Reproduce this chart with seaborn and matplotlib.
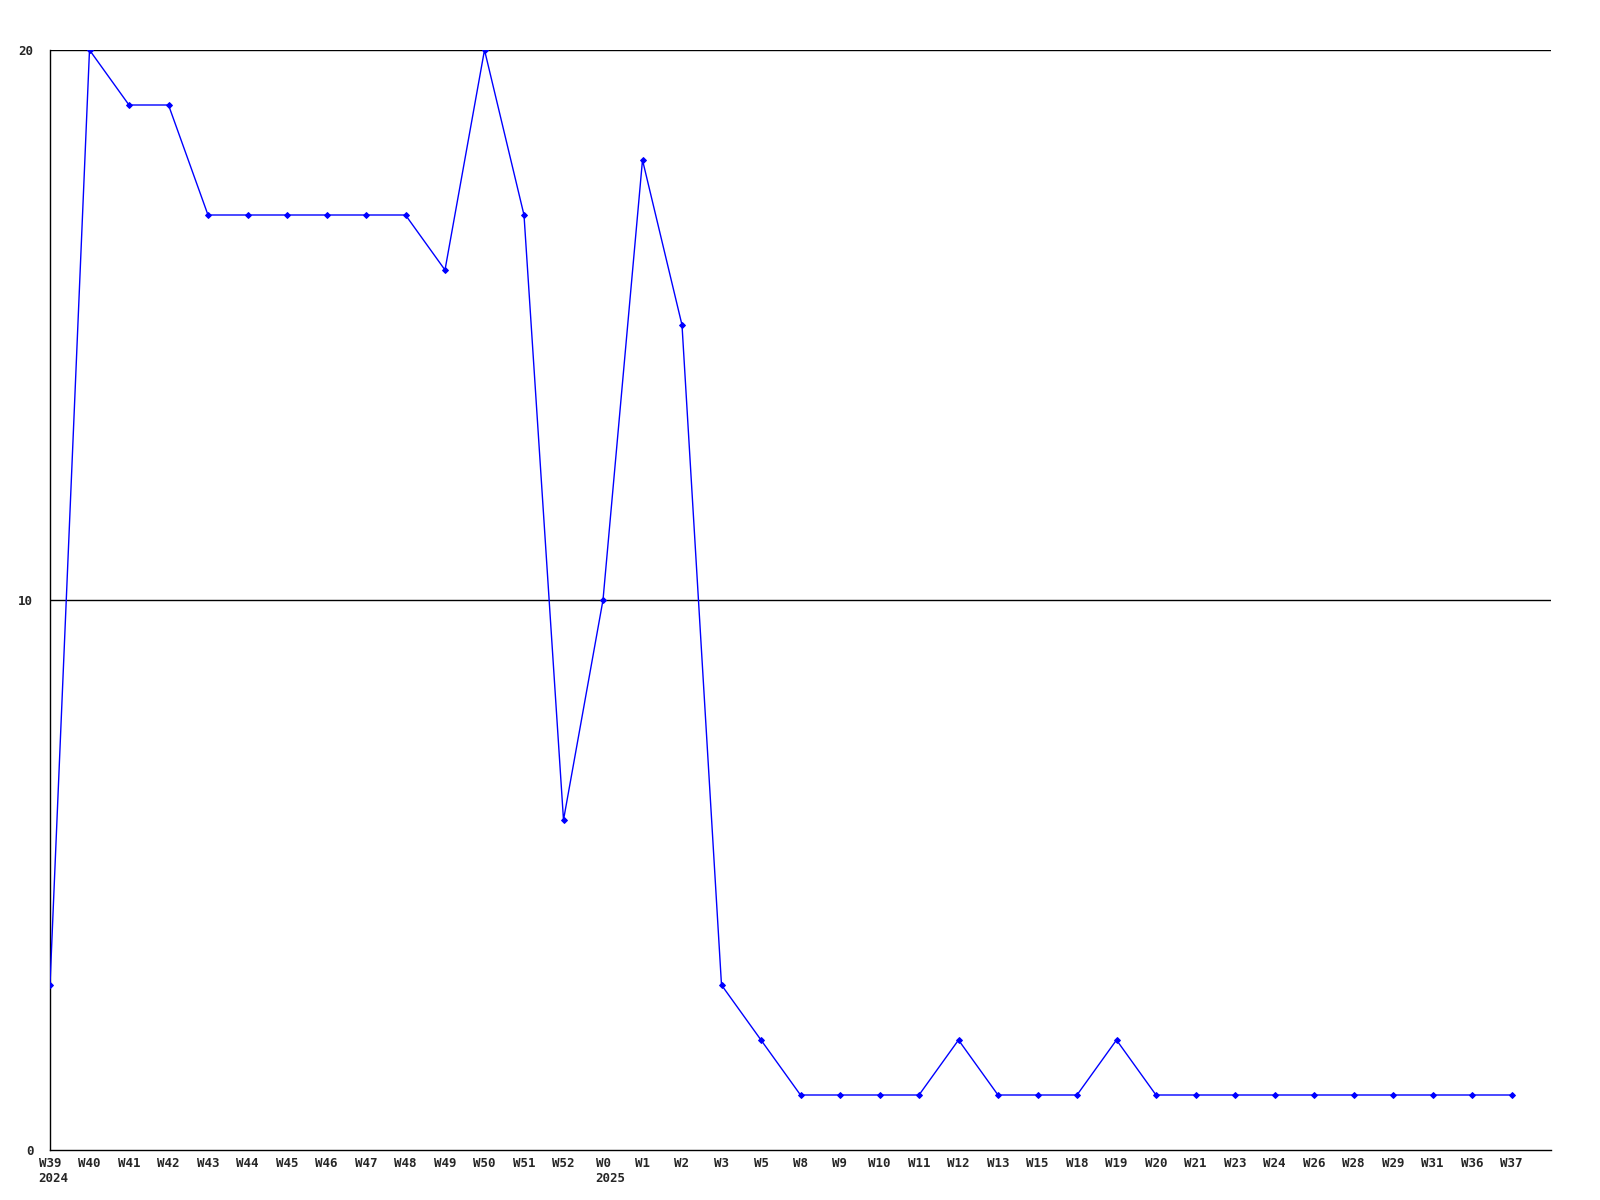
import matplotlib
matplotlib.use("Agg")
import matplotlib.pyplot as plt
import seaborn as sns
import pandas as pd

weeks = ["W39", "W40", "W41", "W42", "W43", "W44", "W45", "W46", "W47", "W48",
         "W49", "W50", "W51", "W52", "W0", "W1", "W2", "W3", "W5", "W8",
         "W9", "W10", "W11", "W12", "W13", "W15", "W18", "W19", "W20", "W21",
         "W23", "W24", "W26", "W28", "W29", "W31", "W36", "W37"]
years = {"W39": "2024", "W0": "2025"}
values = [3, 20, 19, 19, 17, 17, 17, 17, 17, 17,
          16, 20, 17, 6, 10, 18, 15, 3, 2, 1,
          1, 1, 1, 2, 1, 1, 1, 2, 1, 1,
          1, 1, 1, 1, 1, 1, 1, 1]
y_ticks = [0, 10, 20]

df = pd.DataFrame({"idx": range(len(weeks)), "value": values})

sns.set_style("white")
plt.rcParams['font.family'] = ['DejaVu Sans Mono', 'DejaVu Sans']

fig = plt.figure(figsize=(16, 12), dpi=100)
ax = fig.add_axes([50/1600, 50/1200, (1551-50)/1600, (1150-50)/1200])

for yv in y_ticks[1:]:
    ax.axhline(yv, color="black", lw=1.0, zorder=1)

sns.lineplot(data=df, x="idx", y="value", ax=ax, color="#0000ff", lw=1.0,
             marker="D", markersize=3, markeredgecolor="#0000ff", zorder=3)

fs = 9
ax.set_xlim(0, 38)
ax.set_ylim(0, 20)
ax.set_xticks(range(len(weeks)))
ax.set_xticklabels(weeks, fontsize=fs, fontweight="bold")
ax.set_yticks(y_ticks)
ax.set_yticklabels([str(v) for v in y_ticks], fontsize=fs, fontweight="bold")
ax.tick_params(axis="both", length=0)
ax.tick_params(axis="y", pad=12)
ax.tick_params(axis="x", pad=5)
ax.set_xlabel("")
ax.set_ylabel("")

char_w = 0.602 * fs
for i, w in enumerate(weeks):
    if w in years:
        ax.annotate(years[w], xy=(i, 0), xycoords=("data", "axes fraction"),
                    xytext=(-len(w) * char_w / 2, -16), textcoords="offset points",
                    ha="left", va="top", fontsize=fs, fontweight="bold")

for s in ["top", "right"]:
    ax.spines[s].set_visible(False)
for s in ["left", "bottom"]:
    ax.spines[s].set_color("black")
    ax.spines[s].set_linewidth(1.0)

fig.savefig("out.png", dpi=100)
